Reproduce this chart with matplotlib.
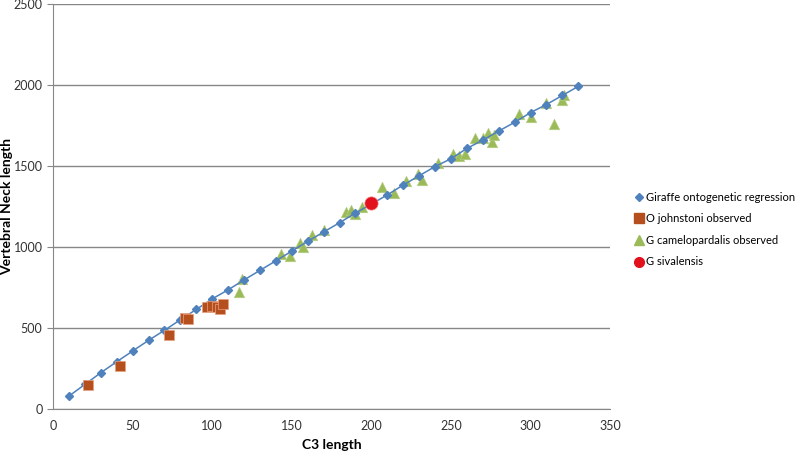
import numpy as np
import matplotlib
matplotlib.use("Agg")
import matplotlib.pyplot as plt
from matplotlib.lines import Line2D

plt.rcParams['font.family'] = ['Lato', 'DejaVu Sans']

# regression line (C3 length, neck length)
reg_x = [10, 20, 30, 40, 50, 60, 70, 80, 90, 100, 110, 120, 130, 140, 150, 160,
         170, 180, 190, 200, 210, 220, 230, 240, 250, 260, 270, 280, 290, 300,
         310, 320, 330]
reg_y = [80, 152, 224, 292, 358, 424, 486, 551, 615, 680, 736, 797, 856, 915,
         975, 1035, 1093, 1150, 1210, 1265, 1322, 1383, 1440, 1497, 1545, 1609,
         1660, 1716, 1770, 1830, 1880, 1936, 1992]

# O johnstoni observed
oj_x = [22, 42, 73, 83, 85, 97, 100, 103, 105, 107]
oj_y = [148, 268, 455, 560, 556, 630, 635, 628, 620, 648]

# G camelopardalis observed
gc_x = [117, 119, 143, 149, 155, 157, 163, 170, 184, 187, 190, 194, 207, 214,
        222, 229, 232, 242, 251, 255, 259, 265, 270, 273, 276, 277, 293, 300,
        310, 315, 320, 321]
gc_y = [725, 800, 955, 942, 1025, 1000, 1075, 1105, 1215, 1228, 1205, 1250,
        1372, 1334, 1410, 1450, 1414, 1520, 1574, 1564, 1576, 1676, 1672, 1706,
        1648, 1694, 1822, 1806, 1891, 1758, 1910, 1936]

# G sivalensis
gs_x = [200]
gs_y = [1270]

labels = ['Giraffe ontogenetic regression', 'O johnstoni observed',
          'G camelopardalis observed', 'G sivalensis']

blue, brown, green, red = '#4F81BD', '#B5501E', '#9BBB59', '#E3101E'

fig = plt.figure(figsize=(7.97, 4.53), dpi=100)
ax = fig.add_axes([0.0665, 0.097, 0.699, 0.894])

ax.plot(reg_x, reg_y, color=blue, lw=1.1, marker='D', ms=4,
        mec=blue, mfc=blue, zorder=3)
ax.scatter(oj_x, oj_y, marker='s', s=42, color=brown, edgecolors='#E8A080',
           linewidths=0.5, zorder=4)
ax.scatter(gc_x, gc_y, marker='^', s=58, color=green, edgecolors='#B8D08A',
           linewidths=0.4, zorder=2)
ax.scatter(gs_x, gs_y, marker='o', s=90, color=red, edgecolors='#F07070',
           linewidths=0.5, zorder=5)

ax.set_xlim(0, 350)
ax.set_ylim(0, 2500)
ax.set_xticks(np.arange(0, 351, 50))
ax.set_yticks(np.arange(0, 2501, 500))
ax.yaxis.grid(True, color='#878787', lw=1.0)
ax.set_axisbelow(True)
for s in ['top', 'right']:
    ax.spines[s].set_visible(False)
for s in ['left', 'bottom']:
    ax.spines[s].set_color('#878787')
ax.tick_params(axis='both', colors='#878787', labelcolor='#333333', labelsize=9,
               length=4, direction='out')
ax.tick_params(axis='x', length=0, pad=8)

ax.set_xlabel('C3 length', fontsize=10, fontweight='bold', labelpad=5)
ax.set_ylabel('Vertebral Neck length', fontsize=10, fontweight='bold')
ax.yaxis.set_label_coords(-0.072, 0.5)

# legend shows only the markers
handles = [
    Line2D([], [], ls='none', marker='D', ms=4.5, color=blue),
    Line2D([], [], ls='none', marker='s', ms=6.5, color=brown),
    Line2D([], [], ls='none', marker='^', ms=7, color=green),
    Line2D([], [], ls='none', marker='o', ms=7, color=red),
]
ax.legend(handles, labels, loc='center left', bbox_to_anchor=(1.043, 0.443),
          frameon=False, fontsize=8, handletextpad=0.3, handlelength=0.8,
          labelspacing=0.95, borderaxespad=0, borderpad=0)

fig.savefig('out.png', dpi=100)
